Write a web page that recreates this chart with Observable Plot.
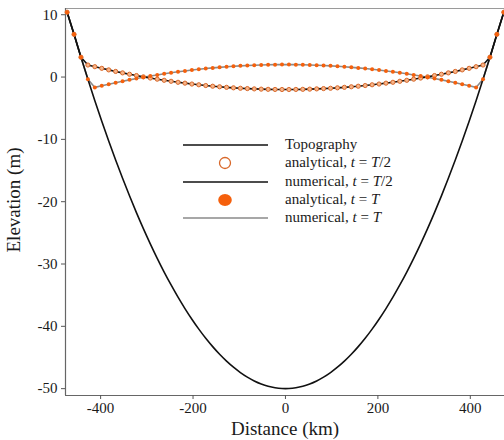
<!DOCTYPE html>
<html><head><meta charset="utf-8">
<script src="https://cdn.jsdelivr.net/npm/d3@7"></script>
<script src="https://cdn.jsdelivr.net/npm/@observablehq/plot@0.6"></script>
<style>
body{margin:0;background:#fff;}
#wrap{position:relative;width:504px;height:440px;font-family:"Liberation Serif","Times New Roman",serif;color:#1a1a1a;overflow:hidden;}
#wrap svg text{font-family:"Liberation Serif","Times New Roman",serif !important;}
.lab{position:absolute;font-size:19px;white-space:nowrap;}
.leg{position:absolute;font-size:15px;white-space:nowrap;line-height:18px;}
</style></head><body><div id="wrap"></div>
<script>
// grid positions (km)
const xs = [-472.5,-457.5,-442.5,-427.5,-412.5,-397.5,-382.5,-367.5,-352.5,-337.5,-322.5,-307.5,-292.5,-277.5,-262.5,-247.5,-232.5,-217.5,-202.5,-187.5,-172.5,-157.5,-142.5,-127.5,-112.5,-97.5,-82.5,-67.5,-52.5,-37.5,-22.5,-7.5,
7.5,22.5,37.5,52.5,67.5,82.5,97.5,112.5,127.5,142.5,157.5,172.5,187.5,202.5,217.5,232.5,247.5,262.5,277.5,292.5,307.5,322.5,337.5,352.5,367.5,382.5,397.5,412.5,427.5,442.5,457.5,472.5];
// topography (m)
const topo = [10.4,6.85,3.18,-0.36,-3.79,-7.09,-10.26,-13.32,-16.25,-19.06,-21.75,-24.32,-26.76,-29.09,-31.29,-33.36,-35.32,-37.15,-38.86,-40.45,-41.92,-43.26,-44.49,-45.59,-46.56,-47.42,-48.15,-48.76,-49.25,-49.62,-49.86,-49.98,
-49.98,-49.86,-49.62,-49.25,-48.76,-48.15,-47.42,-46.56,-45.59,-44.49,-43.26,-41.92,-40.45,-38.86,-37.15,-35.32,-33.36,-31.29,-29.09,-26.76,-24.32,-21.75,-19.06,-16.25,-13.32,-10.26,-7.09,-3.79,-0.36,3.18,6.85,10.4];
// analytical surface, t = T/2
const anaHalf = [10.4,6.85,3.18,1.93,1.66,1.40,1.15,0.90,0.67,0.45,0.24,0.03,-0.16,-0.34,-0.52,-0.68,-0.84,-0.98,-1.12,-1.24,-1.36,-1.47,-1.56,-1.65,-1.73,-1.80,-1.85,-1.90,-1.94,-1.97,-1.99,-2.00,
-2.00,-1.99,-1.97,-1.94,-1.90,-1.85,-1.80,-1.73,-1.65,-1.56,-1.47,-1.36,-1.24,-1.12,-0.98,-0.84,-0.68,-0.52,-0.34,-0.16,0.03,0.24,0.45,0.67,0.90,1.15,1.40,1.66,1.93,3.18,6.85,10.4];
// analytical surface, t = T
const anaFull = [10.4,6.85,3.18,-0.36,-1.66,-1.40,-1.15,-0.90,-0.67,-0.45,-0.24,-0.03,0.16,0.34,0.52,0.68,0.84,0.98,1.12,1.24,1.36,1.47,1.56,1.65,1.73,1.80,1.85,1.90,1.94,1.97,1.99,2.00,
2.00,1.99,1.97,1.94,1.90,1.85,1.80,1.73,1.65,1.56,1.47,1.36,1.24,1.12,0.98,0.84,0.68,0.52,0.34,0.16,-0.03,-0.24,-0.45,-0.67,-0.90,-1.15,-1.40,-1.66,-0.36,3.18,6.85,10.4];
// numerical surface, t = T/2
const numHalf = [10.4,6.85,3.18,1.93,1.66,1.40,1.15,0.90,0.67,0.45,0.24,0.03,-0.16,-0.34,-0.52,-0.68,-0.84,-0.98,-1.12,-1.24,-1.36,-1.47,-1.56,-1.65,-1.73,-1.80,-1.85,-1.90,-1.94,-1.97,-1.99,-2.00,
-2.00,-1.99,-1.97,-1.94,-1.90,-1.85,-1.80,-1.73,-1.65,-1.56,-1.47,-1.36,-1.24,-1.12,-0.98,-0.84,-0.68,-0.52,-0.34,-0.16,0.03,0.24,0.45,0.67,0.90,1.15,1.40,1.66,1.93,3.18,6.85,10.4];
// numerical surface, t = T
const numFull = [10.4,6.85,3.18,-0.36,-1.66,-1.40,-1.15,-0.90,-0.67,-0.45,-0.24,-0.03,0.16,0.34,0.52,0.68,0.84,0.98,1.12,1.24,1.36,1.47,1.56,1.65,1.73,1.80,1.85,1.90,1.94,1.97,1.99,2.00,
2.00,1.99,1.97,1.94,1.90,1.85,1.80,1.73,1.65,1.56,1.47,1.36,1.24,1.12,0.98,0.84,0.68,0.52,0.34,0.16,-0.03,-0.24,-0.45,-0.67,-0.90,-1.15,-1.40,-1.66,-0.36,3.18,6.85,10.4];

const xTicks = [-400,-200,0,200,400];
const yTicks = [-50,-40,-30,-20,-10,0,10];
const xDomain = [-476,474];
const yDomain = [-51.1,11];

const legendItems = [
  {label:"Topography", kind:"line", color:"#111", width:1.6},
  {label:"analytical, <i>t</i> = <i>T</i>/2", kind:"open", color:"#d8682a"},
  {label:"numerical, <i>t</i> = <i>T</i>/2", kind:"line", color:"#111", width:1.6},
  {label:"analytical, <i>t</i> = <i>T</i>", kind:"filled", color:"#f5600c"},
  {label:"numerical, <i>t</i> = <i>T</i>", kind:"line", color:"#8a8a8a", width:1.6}
];

const rows = xs.map((x,i)=>({x, topo:topo[i], aH:anaHalf[i], aF:anaFull[i], nH:numHalf[i], nF:numFull[i]}));
const fmt = d => String(d);
const FONT = "'Liberation Serif', 'Times New Roman', serif";

const chart = Plot.plot({
  width:504, height:440,
  marginLeft:65, marginRight:0, marginTop:8, marginBottom:45,
  style:{fontFamily:FONT, fontSize:"15px", color:"#1a1a1a", background:"white", overflow:"visible"},
  x:{domain:xDomain},
  y:{domain:yDomain},
  marks:[
    Plot.ruleY([yDomain[1]], {stroke:"#9a9a9a", strokeWidth:1.2}),
    Plot.ruleX([xDomain[0]], {stroke:"#666", strokeWidth:1.2}),
    Plot.ruleY([yDomain[0]], {stroke:"#666", strokeWidth:1.2}),
    Plot.axisX({ticks:xTicks, tickFormat:fmt, tickSize:4, tickPadding:3, label:null, fontSize:15, fontFamily:FONT, stroke:"#555"}),
    Plot.axisY({ticks:yTicks, tickFormat:fmt, tickSize:4, tickPadding:4, label:null, fontSize:15, fontFamily:FONT, stroke:"#555"}),
    Plot.line(rows, {x:"x", y:"nF", stroke:"#8a8a8a", strokeWidth:1.6}),
    Plot.line(rows, {x:"x", y:"nH", stroke:"#111", strokeWidth:1.6}),
    Plot.line(rows, {x:"x", y:"topo", stroke:"#111", strokeWidth:1.6, curve:"catmull-rom"}),
    Plot.dot(rows, {x:"x", y:"aH", r:2.1, stroke:"#d8682a", strokeWidth:1, fill:"#f7b58a"}),
    Plot.dot(rows, {x:"x", y:"aF", r:2, fill:"#f5600c", stroke:"none"})
  ]
});
const wrap = document.getElementById("wrap");
wrap.appendChild(chart);

// axis titles
const xl = document.createElement("div");
xl.className = "lab"; xl.textContent = "Distance (km)";
xl.style.left = "285px"; xl.style.top = "418px"; xl.style.transform = "translateX(-50%)";
wrap.appendChild(xl);
const yl = document.createElement("div");
yl.className = "lab"; yl.textContent = "Elevation (m)";
yl.style.left = "14px"; yl.style.top = "200px"; yl.style.transform = "translate(-50%,-50%) rotate(-90deg)";
wrap.appendChild(yl);

// legend
legendItems.forEach((it,k)=>{
  const cy = 145 + k*18.3;
  const svgNS = "http://www.w3.org/2000/svg";
  const s = document.createElementNS(svgNS,"svg");
  s.setAttribute("width","90"); s.setAttribute("height","16");
  s.style.position="absolute"; s.style.left="181px"; s.style.top=(cy-8)+"px";
  if(it.kind==="line"){
    const l = document.createElementNS(svgNS,"line");
    l.setAttribute("x1","2"); l.setAttribute("x2","87"); l.setAttribute("y1","8"); l.setAttribute("y2","8");
    l.setAttribute("stroke",it.color); l.setAttribute("stroke-width",it.width);
    s.appendChild(l);
  } else {
    const c = document.createElementNS(svgNS,"ellipse");
    c.setAttribute("cx","44"); c.setAttribute("cy","8");
    c.setAttribute("rx", it.kind==="open" ? "5.5" : "6.8");
    c.setAttribute("ry", it.kind==="open" ? "5.5" : "6");
    if(it.kind==="open"){ c.setAttribute("fill","none"); c.setAttribute("stroke",it.color); c.setAttribute("stroke-width","1.3"); }
    else { c.setAttribute("fill",it.color); }
    s.appendChild(c);
  }
  wrap.appendChild(s);
  const t = document.createElement("div");
  t.className="leg"; t.innerHTML = it.label;
  t.style.left="285px"; t.style.top=(cy-10)+"px";
  wrap.appendChild(t);
});
</script>
</body></html>
